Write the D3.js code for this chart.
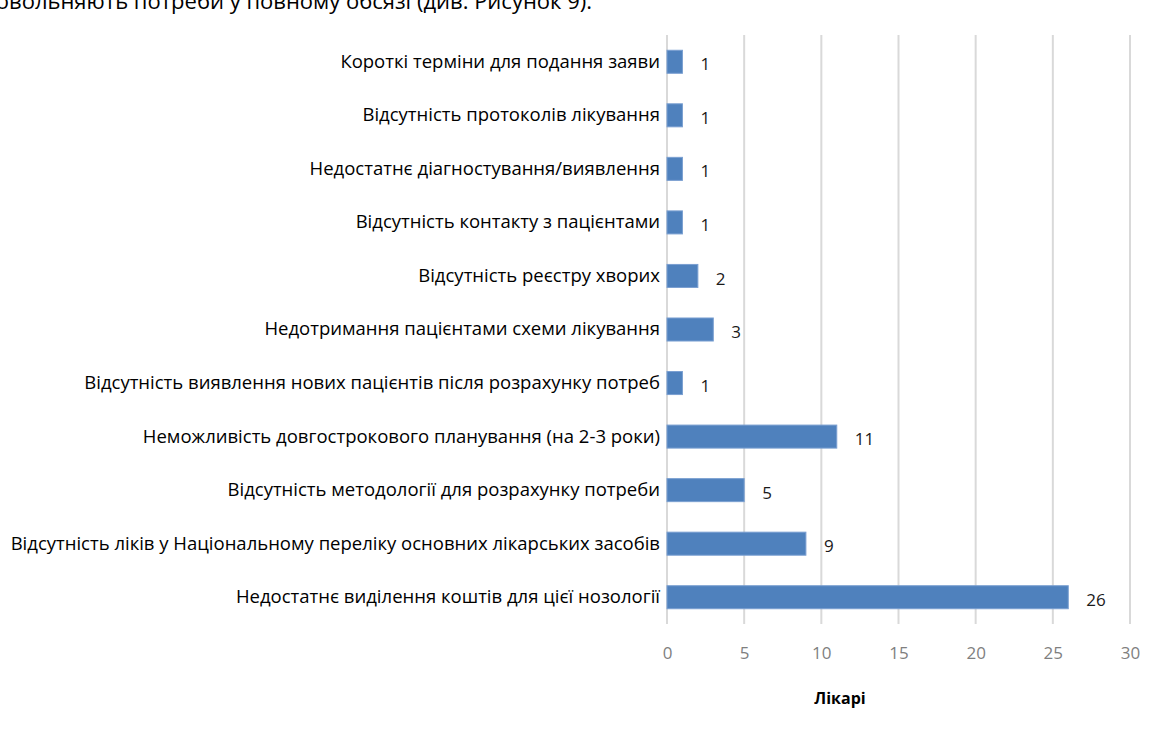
<!DOCTYPE html>
<html lang="uk">
<head>
<meta charset="utf-8">
<script src="https://cdn.jsdelivr.net/npm/d3@7"></script>
<style>
  html, body { margin: 0; padding: 0; background: #fff; }
  svg { display: block; }
</style>
</head>
<body>
<svg id="chart" width="1163" height="731"></svg>
<script>
// Причини, через які не вдається забезпечити потребу (кількість лікарів)
const categories = [
  "Короткі терміни для подання заяви",
  "Відсутність протоколів лікування",
  "Недостатнє діагностування/виявлення",
  "Відсутність контакту з пацієнтами",
  "Відсутність реєстру хворих",
  "Недотримання пацієнтами схеми лікування",
  "Відсутність виявлення нових пацієнтів після розрахунку потреб",
  "Неможливість довгострокового планування (на 2-3 роки)",
  "Відсутність методології для розрахунку потреби",
  "Відсутність ліків у Національному переліку основних лікарських засобів",
  "Недостатнє виділення коштів для цієї нозології"
];
const values = [1, 1, 1, 1, 2, 3, 1, 11, 5, 9, 26];
const xTicks = [0, 5, 10, 15, 20, 25, 30];
const xTitle = "Лікарі";
const precedingText = "задовольняють потреби у повному обсязі (див. Рисунок 9).";

const svg = d3.select("#chart");
const plot = { left: 667, right: 1130, top: 35, bottom: 624 };

const x = d3.scaleLinear().domain([0, 30]).range([plot.left, plot.right]);
const y = d3.scaleBand().domain(categories).range([plot.top, plot.bottom]).paddingInner(0.57).paddingOuter(0.285);

// Рядок основного тексту над рисунком (обрізаний зверху)
svg.append("text")
  .attr("x", 592).attr("y", 9)
  .attr("text-anchor", "end")
  .attr("font-family", "'Open Sans', sans-serif")
  .attr("font-size", 22)
  .attr("fill", "#000")
  .text(precedingText);

// Вертикальні лінії сітки
svg.append("g")
  .selectAll("line")
  .data(xTicks)
  .join("line")
  .attr("x1", d => x(d)).attr("x2", d => x(d))
  .attr("y1", plot.top).attr("y2", plot.bottom)
  .attr("stroke", "#d9d9d9")
  .attr("stroke-width", 2);

// Підписи осі X
const xAxis = d3.axisBottom(x).tickValues(xTicks).tickSize(0).tickPadding(0);
const gx = svg.append("g")
  .attr("transform", `translate(0, ${plot.bottom + 23})`)
  .call(xAxis);
gx.select(".domain").remove();
gx.selectAll("text")
  .attr("font-family", "'Open Sans', sans-serif")
  .attr("font-size", 17)
  .attr("fill", "#7f7f7f");

// Смуги
svg.append("g")
  .selectAll("rect")
  .data(categories)
  .join("rect")
  .attr("x", x(0))
  .attr("y", d => y(d))
  .attr("width", (d, i) => x(values[i]) - x(0))
  .attr("height", y.bandwidth())
  .attr("fill", "#4f81bd")
  .attr("stroke", "#7a9fd1")
  .attr("stroke-width", 1);

// Підписи категорій
const yAxis = d3.axisLeft(y).tickSize(0).tickPadding(7);
const gy = svg.append("g")
  .attr("transform", `translate(${plot.left}, 0)`)
  .call(yAxis);
gy.select(".domain").remove();
gy.selectAll("text")
  .attr("font-family", "'Open Sans', sans-serif")
  .attr("font-size", 18.5)
  .attr("fill", "#000");

// Значення біля смуг
svg.append("g")
  .selectAll("text")
  .data(categories)
  .join("text")
  .attr("x", (d, i) => x(values[i]) + 18)
  .attr("y", d => y(d) + y.bandwidth() / 2 + 4)
  .attr("dominant-baseline", "middle")
  .attr("font-family", "'Open Sans', sans-serif")
  .attr("font-size", 17)
  .attr("fill", "#1a1a1a")
  .text((d, i) => values[i]);

// Назва осі X
svg.append("text")
  .attr("x", 840).attr("y", 704)
  .attr("text-anchor", "middle")
  .attr("font-family", "'Open Sans', sans-serif")
  .attr("font-size", 16)
  .attr("font-weight", "bold")
  .attr("fill", "#000")
  .text(xTitle);
</script>
</body>
</html>
